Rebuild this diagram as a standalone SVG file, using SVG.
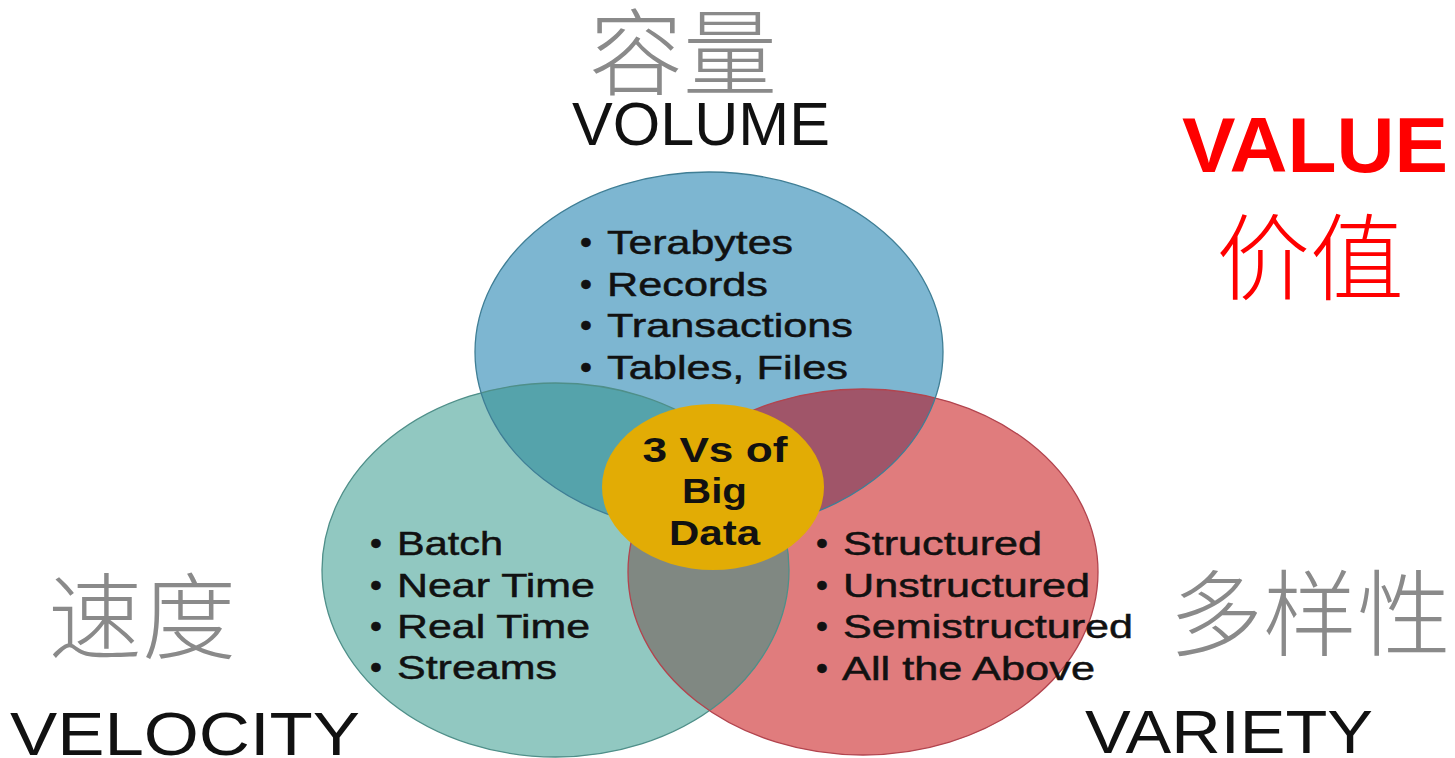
<svg xmlns="http://www.w3.org/2000/svg" width="1455" height="758" viewBox="0 0 1455 758">
  <style>
    .item { font-family: "Liberation Sans", Arial, sans-serif; font-size: 34px; fill: #111; stroke: #111; stroke-width: 0.5px; }
    .core { font-family: "Liberation Sans", Arial, sans-serif; font-weight: bold; font-size: 35px; fill: #111; text-anchor: middle; }
    .vname { font-family: "Liberation Sans", Arial, sans-serif; font-size: 61px; fill: #111; }
    .cjk { font-family: "Noto Sans CJK SC", sans-serif; font-weight: 300; font-size: 94px; fill: #8a8a8a; text-anchor: middle; }
    .value { fill: #ff0000; }
    .edge { fill: none; stroke-width: 1.3; }
  </style>
  <defs>
    <clipPath id="clipTeal"><ellipse cx="555.5" cy="570" rx="233.5" ry="187"/></clipPath>
    <clipPath id="clipRed"><ellipse cx="863" cy="572" rx="235" ry="183"/></clipPath>
  </defs>

  <rect width="1455" height="758" fill="#ffffff"/>

  <!-- circle fills -->
  <g id="circles">
    <ellipse id="velocity-circle" cx="555.5" cy="570" rx="233.5" ry="187" fill="#91c8c1"/>
    <ellipse id="variety-circle" cx="863" cy="572" rx="235" ry="183" fill="#e07c7d"/>
    <ellipse id="volume-circle" cx="709" cy="352" rx="234" ry="180" fill="#7db6d1"/>
    <!-- overlaps -->
    <ellipse cx="709" cy="352" rx="234" ry="180" fill="#55a3ab" clip-path="url(#clipTeal)"/>
    <ellipse cx="709" cy="352" rx="234" ry="180" fill="#a05569" clip-path="url(#clipRed)"/>
    <ellipse cx="555.5" cy="570" rx="233.5" ry="187" fill="#808882" clip-path="url(#clipRed)"/>
    <!-- outlines -->
    <ellipse class="edge" cx="555.5" cy="570" rx="233.5" ry="187" stroke="#4f8f89"/>
    <ellipse class="edge" cx="863" cy="572" rx="235" ry="183" stroke="#b2444e"/>
    <ellipse class="edge" cx="709" cy="352" rx="234" ry="180" stroke="#3f7e95"/>
  </g>

  <!-- centre -->
  <g id="core">
    <ellipse cx="713" cy="487" rx="111" ry="83" fill="#e2ac05"/>
    <text class="core" x="715" y="462" textLength="145" lengthAdjust="spacingAndGlyphs">3 Vs of</text>
    <text class="core" x="714.5" y="503" textLength="65" lengthAdjust="spacingAndGlyphs">Big</text>
    <text class="core" x="714.5" y="545" textLength="91" lengthAdjust="spacingAndGlyphs">Data</text>
  </g>

  <!-- volume list -->
  <g id="volume">
    <text class="item" x="580" y="254">•</text>
    <text class="item" x="607" y="254" textLength="186" lengthAdjust="spacingAndGlyphs">Terabytes</text>
    <text class="item" x="580" y="296">•</text>
    <text class="item" x="607" y="296" textLength="161" lengthAdjust="spacingAndGlyphs">Records</text>
    <text class="item" x="580" y="337">•</text>
    <text class="item" x="607" y="337" textLength="246" lengthAdjust="spacingAndGlyphs">Transactions</text>
    <text class="item" x="580" y="379">•</text>
    <text class="item" x="607" y="379" textLength="241" lengthAdjust="spacingAndGlyphs">Tables, Files</text>
    <text class="cjk" x="683" y="88">容量</text>
    <text class="vname" x="572" y="145" textLength="258" lengthAdjust="spacingAndGlyphs">VOLUME</text>
  </g>

  <!-- velocity list -->
  <g id="velocity">
    <text class="item" x="370" y="555">•</text>
    <text class="item" x="397" y="555" textLength="106" lengthAdjust="spacingAndGlyphs">Batch</text>
    <text class="item" x="370" y="597">•</text>
    <text class="item" x="397" y="597" textLength="198" lengthAdjust="spacingAndGlyphs">Near Time</text>
    <text class="item" x="370" y="638">•</text>
    <text class="item" x="397" y="638" textLength="193" lengthAdjust="spacingAndGlyphs">Real Time</text>
    <text class="item" x="370" y="679">•</text>
    <text class="item" x="397" y="679" textLength="160" lengthAdjust="spacingAndGlyphs">Streams</text>
    <text class="cjk" x="142" y="652">速度</text>
    <text class="vname" x="10" y="755" textLength="350" lengthAdjust="spacingAndGlyphs">VELOCITY</text>
  </g>

  <!-- variety list -->
  <g id="variety">
    <text class="item" x="816" y="555">•</text>
    <text class="item" x="843" y="555" textLength="199" lengthAdjust="spacingAndGlyphs">Structured</text>
    <text class="item" x="816" y="597">•</text>
    <text class="item" x="843" y="597" textLength="247" lengthAdjust="spacingAndGlyphs">Unstructured</text>
    <text class="item" x="816" y="638">•</text>
    <text class="item" x="843" y="638" textLength="290" lengthAdjust="spacingAndGlyphs">Semistructured</text>
    <text class="item" x="816" y="680">•</text>
    <text class="item" x="842" y="680" textLength="253" lengthAdjust="spacingAndGlyphs">All the Above</text>
    <text class="cjk" x="1310" y="649">多样性</text>
    <text class="vname" x="1085" y="753" textLength="288" lengthAdjust="spacingAndGlyphs">VARIETY</text>
  </g>

  <!-- value -->
  <g id="value">
    <text class="value" x="1182" y="172" font-family="Liberation Sans, Arial, sans-serif" font-weight="bold" font-size="77" textLength="266" lengthAdjust="spacingAndGlyphs">VALUE</text>
    <text class="cjk value" x="1310" y="293" font-size="88" font-weight="400">价值</text>
  </g>
</svg>
